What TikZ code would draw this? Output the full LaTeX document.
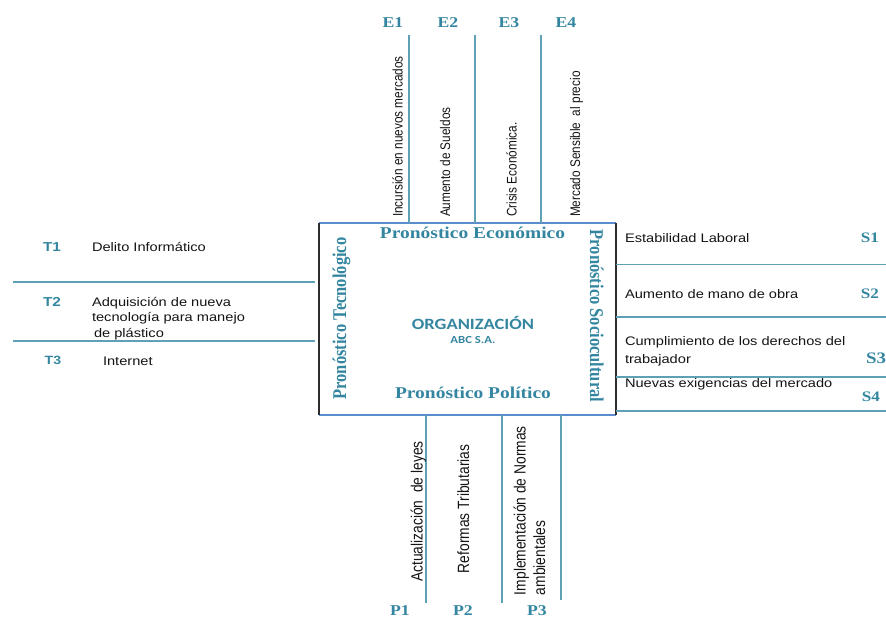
\documentclass[tikz,border=0pt]{standalone}
\usepackage{fontspec}
\usepackage{graphicx}
\setmainfont{Liberation Sans}
\newfontfamily\headfont{Liberation Serif}
\newfontfamily\orgfont{Carlito}

\definecolor{tealtxt}{RGB}{52,134,160}
\definecolor{tealline}{RGB}{94,160,181}
\definecolor{boxblue}{RGB}{92,140,208}
\definecolor{boxdark}{RGB}{45,45,45}
\definecolor{bodytxt}{RGB}{20,20,20}

\tikzset{
  every node/.style={inner sep=0pt, outer sep=0pt},
  wide/.style={xscale=1.18},
  body/.style={wide, anchor=base west, text=bodytxt,
    font=\fontsize{12.4}{15}\selectfont},
  upbody/.style={xscale=1.18, rotate=90, anchor=base west, text=bodytxt,
    font=\fontsize{11.8}{14}\selectfont},
  upbodylow/.style={upbody, font=\fontsize{13.8}{16}\selectfont},
  head/.style={wide, anchor=base, text=tealtxt,
    font=\headfont\bfseries\fontsize{16.5}{18}\selectfont},
  sidehead/.style={xscale=1.18, anchor=base, text=tealtxt,
    font=\headfont\bfseries\fontsize{16.5}{18}\selectfont},
  etag/.style={wide, anchor=base, text=tealtxt,
    font=\headfont\bfseries\fontsize{15}{16}\selectfont},
  stag/.style={wide, anchor=base, text=tealtxt,
    font=\headfont\bfseries\fontsize{14.5}{16}\selectfont},
  ttag/.style={wide, anchor=base, text=tealtxt,
    font=\bfseries\fontsize{13}{15}\selectfont},
  sep/.style={draw=tealline, line width=1.1pt},
  edgeh/.style={draw=boxblue, line width=1.3pt},
  edgev/.style={draw=boxdark, line width=1.5pt},
}

\begin{document}
\begin{tikzpicture}[x=1pt, y=-1pt]
\useasboundingbox (0,0) rectangle (886,617);

% central frame
\node[minimum width=297pt, minimum height=192pt] (org) at (467.5,319) {};
\draw[edgeh] (org.north west) -- (org.north east);
\draw[edgeh] (org.south west) -- (org.south east);
\draw[edgev] (org.north west) -- (org.south west);
\draw[edgev] (org.north east) -- (org.south east);

\node[wide, anchor=base, text=tealtxt, font=\orgfont\bfseries\fontsize{15.7}{17}\selectfont] (orgname) at (473,330) {ORGANIZACIÓN};
\node[wide, anchor=base, text=tealtxt, font=\orgfont\bfseries\fontsize{10.8}{12}\selectfont] (orgsub) at (473,344) {ABC S.A.};

\node[head] (hEco) at (472.5,239) {Pronóstico Económico};
\node[head] (hPol) at (473,399) {Pronóstico Político};
\node[sidehead, rotate=90] (hTec) at (346,318.5) {Pronóstico Tecnológico};
\node[sidehead, rotate=-90] (hSoc) at (590,316) {Pronóstico Sociocultural};

% economic column (top)
\draw[sep] (409,35) -- (409,223);
\draw[sep] (475,35) -- (475,223);
\draw[sep] (541,35) -- (541,223);
\node[etag] (E1) at (393,28) {E1};
\node[etag] (E2) at (448,28) {E2};
\node[etag] (E3) at (509,28) {E3};
\node[etag] (E4) at (566,28) {E4};
\node[upbody] (e1) at (402.5,217) {Incursión en nuevos mercados};
\node[upbody] (e2) at (450,217) {Aumento de Sueldos};
\node[upbody] (e3) at (516.5,217) {Crisis Económica.};
\node[upbody] (e4) at (580,217) {Mercado Sensible\ \ al precio};

% political column (bottom)
\draw[sep] (426,415) -- (426,603);
\draw[sep] (502,415) -- (502,603);
\draw[sep] (561,415) -- (561,600);
\node[upbodylow] (p1) at (422.5,581.7) {Actualización\ \ de leyes};
\node[upbodylow] (p2) at (469,573) {Reformas Tributarias};
\node[upbodylow] (p3a) at (525.5,595) {Implementación de Normas};
\node[upbodylow] (p3b) at (545,595) {ambientales};
\node[etag] (P1) at (400,615) {P1};
\node[etag] (P2) at (463,615) {P2};
\node[etag] (P3) at (537,615) {P3};

% technological rows (left)
\draw[sep] (13,282) -- (315,282);
\draw[sep] (13,341) -- (315,341);
\node[ttag] (T1) at (52,251.5) {T1};
\node[ttag] (T2) at (52,306.5) {T2};
\node[ttag, font=\bfseries\fontsize{12}{14}\selectfont] (T3) at (53,365) {T3};
\node[body] (t1) at (92,251.5) {Delito Informático};
\node[body] (t2a) at (92,306.5) {Adquisición de nueva};
\node[body] (t2b) at (92,322) {tecnología para manejo};
\node[body] (t2c) at (94,337.5) {de plástico};
\node[body] (t3) at (103,366) {Internet};

% sociocultural rows (right)
\draw[sep] (616,264.5) -- (886,264.5);
\draw[sep] (616,317) -- (886,317);
\draw[sep] (616,377) -- (886,377);
\draw[sep] (616,411) -- (886,411);
\node[body] (s1) at (625,242.5) {Estabilidad Laboral};
\node[body] (s2) at (625,298.5) {Aumento de mano de obra};
\node[body] (s3a) at (625,346) {Cumplimiento de los derechos del};
\node[body] (s3b) at (625,363.5) {trabajador};
\node[body] (s4) at (625,387.5) {Nuevas exigencias del mercado};
\node[stag] (S1) at (870,242.5) {S1};
\node[stag] (S2) at (870,298.5) {S2};
\node[stag, font=\headfont\bfseries\fontsize{16}{18}\selectfont] (S3) at (876,363.5) {S3};
\node[stag] (S4) at (871,401.7) {S4};
\end{tikzpicture}
\end{document}
